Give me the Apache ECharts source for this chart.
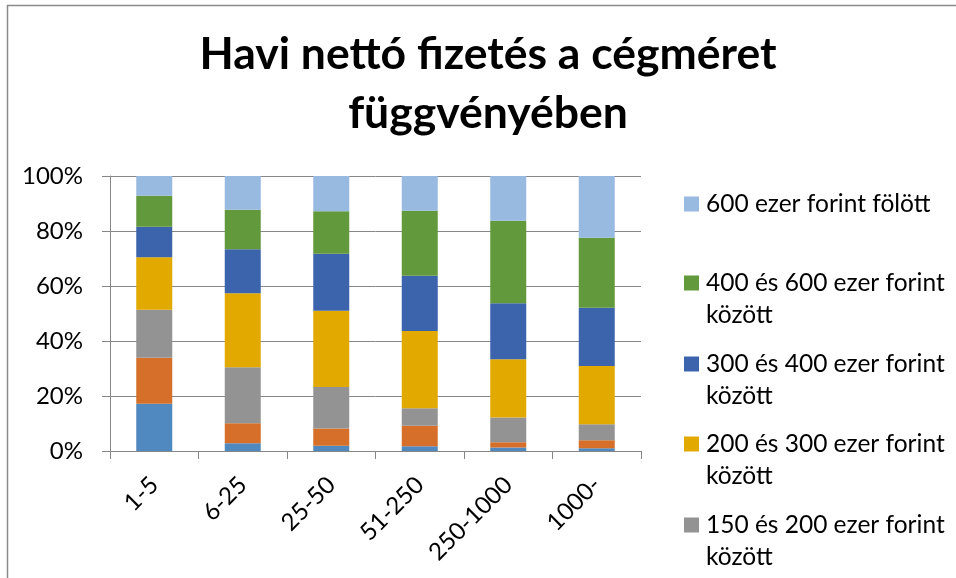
<!DOCTYPE html>
<html>
<head>
<meta charset="utf-8">
<script src="https://cdn.jsdelivr.net/npm/echarts@6/dist/echarts.min.js"></script>
<style>html,body{margin:0;padding:0;background:#fff}#c{width:956px;height:578px}</style>
</head>
<body>
<div id="c"></div>
<script>
var categories = ['1-5', '6-25', '25-50', '51-250', '250-1000', '1000-'];
var seriesNames = [
  '100 ezer forint alatt',
  '100 és 150 ezer forint között',
  '150 és 200 ezer forint között',
  '200 és 300 ezer forint között',
  '300 és 400 ezer forint között',
  '400 és 600 ezer forint között',
  '600 ezer forint fölött'
];
var under100   = [17.2, 2.8, 1.9, 1.7, 1.3, 1.0];
var b100_150   = [16.7, 7.3, 6.3, 7.5, 1.9, 2.9];
var b150_200   = [17.5, 20.4, 15.0, 6.3, 9.0, 5.8];
var b200_300   = [19.1, 26.9, 27.7, 28.1, 21.2, 21.1];
var b300_400   = [11.1, 16.0, 20.7, 20.1, 20.3, 21.1];
var b400_600   = [11.3, 14.4, 15.4, 23.6, 30.0, 25.3];
var over600    = [7.2, 12.3, 12.8, 12.6, 16.3, 22.4];
var yTicks = [0, 20, 40, 60, 80, 100];

var colors = ['#4F89C0', '#D56F29', '#939393', '#E2AA00', '#3B64AD', '#63993D', '#98B9E0'];
var raw = [under100, b100_150, b150_200, b200_300, b300_400, b400_600, over600];
// 100% stacked: normalise each category to its total
var totals = categories.map(function (c, i) {
  return raw.reduce(function (s, arr) { return s + arr[i]; }, 0);
});
var series = raw.map(function (arr, k) {
  return {
    name: seriesNames[k],
    type: 'bar',
    stack: 'total',
    barWidth: 36,
    itemStyle: { color: colors[k] },
    emphasis: { disabled: true },
    data: arr.map(function (v, i) { return v / totals[i] * 100; })
  };
});

var FONT = 'Lato';
var legendTops = [204, 283, 364, 444, 525];
var legendOrder = [6, 5, 4, 3, 2];
var legends = legendOrder.map(function (k, j) {
  var multi = seriesNames[k].indexOf(' között') >= 0;
  return {
    orient: 'vertical',
    left: 684,
    top: legendTops[j] - (multi ? 48 : 16),
    padding: 0,
    itemWidth: 15,
    itemHeight: 15,
    itemGap: 0,
    selectedMode: false,
    icon: 'rect',
    data: [seriesNames[k]],
    formatter: function (n) {
      return n.indexOf(' között') >= 0 ? ' \n' + n.replace(' között', '\nközött') : n;
    },
    textStyle: { fontFamily: FONT, fontSize: 24.5, color: '#000', lineHeight: 32, padding: [0, 0, 0, 2] }
  };
});

var chart = echarts.init(document.getElementById('c'), null, { renderer: 'canvas' });
chart.setOption({
  animation: false,
  backgroundColor: '#fff',
  title: {
    text: 'Havi nettó fizetés a cégméret\nfüggvényében',
    left: 488,
    textAlign: 'center',
    top: 25,
    padding: 0,
    textStyle: { fontFamily: FONT, fontSize: 44.5, fontWeight: 'bold', color: '#000', lineHeight: 59 }
  },
  graphic: [{
    type: 'rect',
    shape: { x: 7.5, y: 5.5, width: 1200, height: 1200 },
    style: { fill: null, stroke: '#8a8a8a', lineWidth: 1.5 },
    silent: true
  }],
  legend: legends,
  grid: { left: 110, right: 315, top: 176, bottom: 127, containLabel: false },
  xAxis: {
    type: 'category',
    data: categories,
    axisLine: { show: true, lineStyle: { color: '#878787', width: 1 } },
    axisTick: { show: true, alignWithLabel: false, length: 8, lineStyle: { color: '#878787' } },
    axisLabel: { rotate: 45, fontFamily: FONT, fontSize: 24, color: '#000', margin: 30, interval: 0 }
  },
  yAxis: {
    type: 'value',
    min: yTicks[0],
    max: yTicks[yTicks.length - 1],
    interval: 20,
    axisLine: { show: true, lineStyle: { color: '#878787', width: 1 } },
    axisTick: { show: true, length: 8, lineStyle: { color: '#878787' } },
    axisLabel: { formatter: '{value}%', fontFamily: FONT, fontSize: 24, color: '#000', margin: 27 },
    splitLine: { show: true, lineStyle: { color: '#878787', width: 1 } }
  },
  series: series
});
</script>
</body>
</html>
